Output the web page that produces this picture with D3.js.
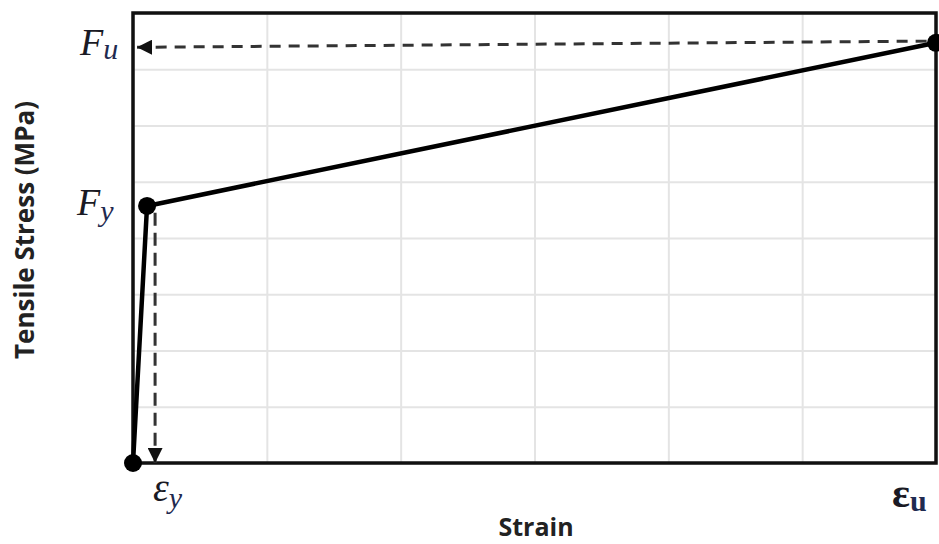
<!DOCTYPE html>
<html>
<head>
<meta charset="utf-8">
<script src="https://cdn.jsdelivr.net/npm/d3@7"></script>
<style>
  html, body { margin: 0; padding: 0; background: #fff; }
  svg { display: block; }
</style>
</head>
<body>
<svg id="chart" width="939" height="544"></svg>
<script>
// Bilinear stress-strain model (grid units: strain 0..6, stress 0..8)
const curveStrain = [0, 0.105, 6.0];
const curveStress = [0, 4.57, 7.47];
const pointNames = ["origin", "yield", "ultimate"];

// Guide lines projecting the yield / ultimate points to the axes
const yieldGuideStrain = [0.165, 0.165];
const yieldGuideStress = [4.45, 0.0];
const ultGuideStrain = [5.93, 0.03];
const ultGuideStress = [7.50, 7.39];

const xGridTicks = [0, 1, 2, 3, 4, 5, 6];
const yGridTicks = [0, 1, 2, 3, 4, 5, 6, 7, 8];

const svg = d3.select("#chart");
const plotL = 133, plotR = 936, plotT = 13, plotB = 463;

const x = d3.scaleLinear().domain([0, 6]).range([plotL, plotR]);
const y = d3.scaleLinear().domain([0, 8]).range([plotB, plotT]);

// Light gridlines via axes
svg.append("g")
  .attr("transform", `translate(0,${plotB})`)
  .call(d3.axisBottom(x).tickValues(xGridTicks).tickSize(-(plotB - plotT)).tickFormat(""))
  .call(g => g.select(".domain").remove())
  .call(g => g.selectAll("line").attr("stroke", "#e4e4e4").attr("stroke-width", 2));

svg.append("g")
  .attr("transform", `translate(${plotL},0)`)
  .call(d3.axisLeft(y).tickValues(yGridTicks).tickSize(-(plotR - plotL)).tickFormat(""))
  .call(g => g.select(".domain").remove())
  .call(g => g.selectAll("line").attr("stroke", "#e4e4e4").attr("stroke-width", 2));

// Plot frame
svg.append("rect")
  .attr("x", plotL).attr("y", plotT)
  .attr("width", plotR - plotL).attr("height", plotB - plotT)
  .attr("fill", "none").attr("stroke", "#111").attr("stroke-width", 3.5);

// Arrow marker
const defs = svg.append("defs");
defs.append("marker")
  .attr("id", "arrow")
  .attr("viewBox", "0 0 10 10")
  .attr("refX", 10).attr("refY", 5)
  .attr("markerWidth", 15).attr("markerHeight", 15)
  .attr("markerUnits", "userSpaceOnUse")
  .attr("orient", "auto")
  .append("path").attr("d", "M0,0 L10,5 L0,10 Z").attr("fill", "#111");

const line = d3.line().x(d => x(d[0])).y(d => y(d[1]));

// Dashed guides
svg.append("path")
  .datum(d3.zip(ultGuideStrain, ultGuideStress))
  .attr("d", line)
  .attr("fill", "none").attr("stroke", "#333").attr("stroke-width", 3)
  .attr("stroke-dasharray", "11,8")
  .attr("marker-end", "url(#arrow)");

svg.append("path")
  .datum(d3.zip(yieldGuideStrain, yieldGuideStress))
  .attr("d", line)
  .attr("fill", "none").attr("stroke", "#333").attr("stroke-width", 3)
  .attr("stroke-dasharray", "13,7")
  .attr("marker-end", "url(#arrow)");

// Stress-strain curve
const curve = d3.zip(curveStrain, curveStress);
svg.append("path")
  .datum(curve)
  .attr("d", line)
  .attr("fill", "none").attr("stroke", "#000").attr("stroke-width", 4.5)
  .attr("stroke-linejoin", "round");

svg.selectAll("circle.pt")
  .data(curve)
  .join("circle")
  .attr("class", "pt")
  .attr("data-name", (d, i) => pointNames[i])
  .attr("cx", d => x(d[0])).attr("cy", d => y(d[1]))
  .attr("r", 9).attr("fill", "#000");

// Symbol labels (main glyph + subscript)
function symLabel(px, py, main, sub, opts) {
  const t = svg.append("text")
    .attr("x", px).attr("y", py)
    .attr("font-family", "'Liberation Serif', 'DejaVu Serif', serif")
    .attr("fill", "#1a1a24");
  t.append("tspan")
    .attr("font-size", opts.size)
    .attr("font-style", opts.italic ? "italic" : "normal")
    .attr("font-weight", opts.bold ? "bold" : "normal")
    .text(main);
  t.append("tspan")
    .attr("font-size", opts.subSize)
    .attr("dy", opts.dy)
    .attr("font-style", opts.italic ? "italic" : "normal")
    .attr("font-weight", opts.bold ? "bold" : "normal")
    .attr("fill", "#1f2a50")
    .text(sub);
  return t;
}

symLabel(80, 55, "F", "u", { size: 38, subSize: 30, dy: 4, italic: true });
symLabel(77, 215, "F", "y", { size: 38, subSize: 30, dy: 6, italic: true });
symLabel(153, 501, "ε", "y", { size: 40, subSize: 30, dy: 7, italic: true });
symLabel(892, 507, "ε", "u", { size: 42, subSize: 30, dy: 4, bold: true });

// Axis titles
const sans = "'Open Sans', 'DejaVu Sans', sans-serif";
svg.append("text")
  .attr("x", 536).attr("y", 536)
  .attr("text-anchor", "middle")
  .attr("font-family", sans).attr("font-weight", "bold")
  .attr("font-size", 25).attr("fill", "#222")
  .text("Strain");

svg.append("text")
  .attr("transform", "translate(34,230) rotate(-90)")
  .attr("text-anchor", "middle")
  .attr("font-family", sans).attr("font-weight", "bold")
  .attr("font-size", 26).attr("fill", "#222")
  .text("Tensile Stress (MPa)");
</script>
</body>
</html>
